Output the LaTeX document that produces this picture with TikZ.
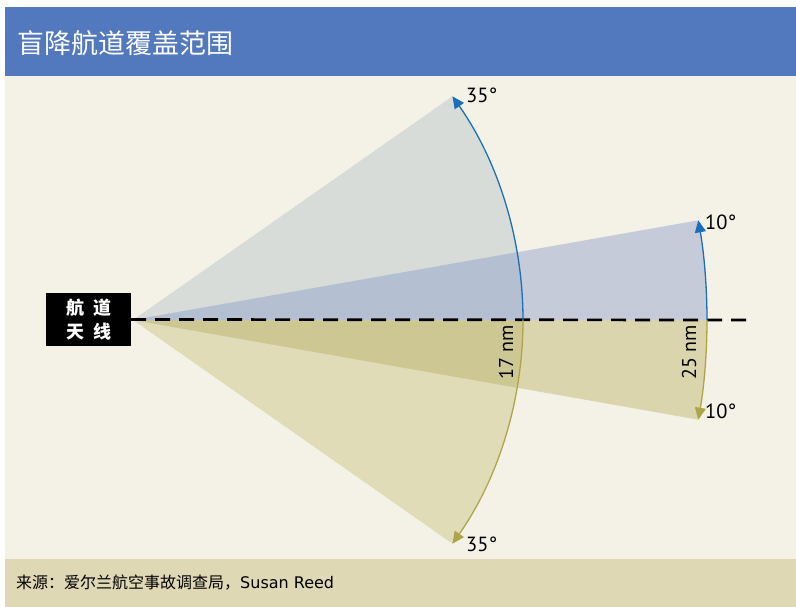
\documentclass[tikz,border=0pt]{standalone}
\usepackage{fontspec}
\setmainfont{PT Sans}
\newfontfamily\cjk{Noto Sans CJK SC}
\newfontfamily\latinsrc{DejaVu Sans}
\usetikzlibrary{arrows.meta}
\definecolor{cream}{HTML}{F4F2E6}
\definecolor{titlebg}{HTML}{5278BD}
\definecolor{footbg}{HTML}{DED8B5}
\definecolor{upbig}{HTML}{D8DCD9}
\definecolor{upsmall}{HTML}{C6CBDA}
\definecolor{upover}{HTML}{B4BFD1}
\definecolor{lowbig}{HTML}{E1DCB8}
\definecolor{lowsmall}{HTML}{DBD5AE}
\definecolor{lowover}{HTML}{CDC893}
\definecolor{bluearc}{HTML}{1B6FB8}
\definecolor{olivearc}{HTML}{ADA548}
\tikzset{
  arcline/.style={line width=1.3pt, -{Triangle[length=12pt,width=11pt]}},
  deglabel/.style={anchor=west, inner sep=0pt, font=\fontsize{20.5}{22}\selectfont},
  nmlabel/.style={rotate=90, inner sep=0pt, font=\fontsize{20}{22}\selectfont},
}
\begin{document}
\begin{tikzpicture}[x=1pt,y=-1pt]
\useasboundingbox (0,0) rectangle (796,607);
\fill[white] (0,0) rectangle (796,607);
\fill[titlebg] (5,7) rectangle (796,76);
\fill[cream] (5,76) rectangle (796,559);
\fill[footbg] (5,559) rectangle (796,607);
\coordinate (O) at (133,320);
\coordinate (B0) at (523,320);
\coordinate (S0) at (707,320);
% upper sectors
\fill[upbig] (O) -- (B0) arc[start angle=0,end angle=-35,radius=390] -- cycle;
\fill[upsmall] (O) -- (S0) arc[start angle=0,end angle=-10,radius=574] -- cycle;
\fill[upover] (O) -- (B0) arc[start angle=0,end angle=-10,radius=390] -- cycle;
% lower sectors
\fill[lowbig] (O) -- (B0) arc[start angle=0,end angle=35,radius=390] -- cycle;
\fill[lowsmall] (O) -- (S0) arc[start angle=0,end angle=10,radius=574] -- cycle;
\fill[lowover] (O) -- (B0) arc[start angle=0,end angle=10,radius=390] -- cycle;
% antenna box
\node[fill=black, minimum width=85pt, minimum height=53pt, inner sep=0pt, text=white, align=center,
  font=\cjk\bfseries\fontsize{18}{24}\selectfont] (ant) at (88.5,319.5) {航\hspace{9pt}道\\天\hspace{9pt}线};
\coordinate (E) at (747,320);
\draw[line width=2.7pt, dash pattern=on 15pt off 9pt] (ant.east) -- (E);
% arcs
\draw[arcline, bluearc] (B0) arc[start angle=0,end angle=-35,radius=390];
\draw[arcline, olivearc] (B0) arc[start angle=0,end angle=35,radius=390];
\draw[arcline, bluearc] (S0) arc[start angle=0,end angle=-10,radius=574];
\draw[arcline, olivearc] (S0) arc[start angle=0,end angle=10,radius=574];
% labels
\node[deglabel] (d1) at (466,95) {35°};
\node[deglabel] (d2) at (466,544) {35°};
\node[deglabel] (d3) at (705,222) {10°};
\node[deglabel] (d4) at (705,411) {10°};
\node[nmlabel] (n1) at (506,352) {17 nm};
\node[nmlabel] (n2) at (689,352) {25 nm};
% title and footer
\node[anchor=west, inner sep=0pt, text=white, font=\cjk\fontsize{27}{30}\selectfont] (title) at (17,43) {盲降航道覆盖范围};
\node[anchor=west, inner sep=0pt, font=\cjk\fontsize{16}{18}\selectfont] (src) at (16,583) {来源：爱尔兰航空事故调查局，{\latinsrc\fontsize{16}{18}\selectfont Susan Reed}};
\end{tikzpicture}
\end{document}
